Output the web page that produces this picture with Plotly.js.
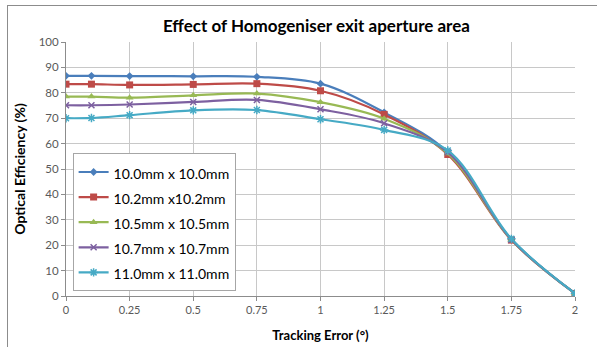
<!DOCTYPE html>
<html><head><meta charset="utf-8">
<script src="https://cdn.plot.ly/plotly-3.0.1.min.js"></script>
<style>
html,body{margin:0;padding:0;background:#fff;overflow:hidden;}
#frame{position:absolute;left:7px;top:5px;width:600px;height:350px;border:1px solid #8c8c8c;box-sizing:border-box;}
#chart{position:absolute;left:0;top:0;width:597px;height:347px;}
</style></head>
<body>
<div id="frame"></div>
<div id="chart"></div>
<script>
const trackingError = [0, 0.1, 0.25, 0.5, 0.75, 1, 1.25, 1.5, 1.75, 2];
const seriesNames = ["10.0mm x 10.0mm", "10.2mm x10.2mm", "10.5mm x 10.5mm", "10.7mm x 10.7mm", "11.0mm x 11.0mm"];
const eff_10_0 = [86.7, 86.7, 86.6, 86.5, 86.3, 83.6, 72.3, 56.6, 22.3, 1.0];
const eff_10_2 = [83.4, 83.4, 83.1, 83.3, 83.6, 80.8, 71.5, 55.7, 22.0, 1.0];
const eff_10_5 = [78.5, 78.5, 78.1, 79.0, 79.7, 76.3, 69.8, 56.1, 22.1, 1.0];
const eff_10_7 = [75.1, 75.1, 75.4, 76.4, 77.2, 73.5, 68.0, 56.6, 22.2, 1.0];
const eff_11_0 = [70.0, 70.1, 71.2, 73.1, 73.2, 69.6, 65.4, 57.3, 22.5, 1.0];

const colors = ["#4a7ebb", "#be4b48", "#98b954", "#7d60a0", "#46aac5"];
const symbols = ["diamond", "square", "triangle-up", "x-thin-open", "asterisk-open"];
const sizes = [6, 7, 7, 6, 7];
const allY = [eff_10_0, eff_10_2, eff_10_5, eff_10_7, eff_11_0];

const traces = allY.map((ys, i) => ({
  x: trackingError, y: ys,
  name: '<span style="font-size:14px">' + seriesNames[i] + '</span>',
  type: "scatter", mode: "lines+markers",
  line: {color: colors[i], width: 2.2, shape: "spline", smoothing: 1},
  marker: {symbol: symbols[i], size: sizes[i], color: colors[i], line: {color: colors[i], width: (i >= 3 ? 1.5 : 0)}}
}));

const layout = {
  width: 597, height: 347,
  margin: {l: 66, r: 22, t: 42, b: 51},
  paper_bgcolor: "rgba(0,0,0,0)", plot_bgcolor: "#fff",
  font: {family: "Lato, 'Open Sans', sans-serif", color: "#595959"},
  title: {text: "<b>Effect of Homogeniser exit aperture area</b>", font: {size: 17, color: "#000", family: "Lato, sans-serif"}, x: 0.53, xanchor: "center", y: 0.925, yanchor: "middle"},
  xaxis: {
    range: [0, 2], dtick: 0.25, tick0: 0, showgrid: true, gridcolor: "#c8c8c8", gridwidth: 1,
    zeroline: false, showline: true, linecolor: "#8c8c8c", ticks: "outside", ticklen: 4, tickcolor: "#8c8c8c",
    tickfont: {size: 11, color: "#595959"},
    title: {text: "<b>Tracking Error (°)</b>", font: {size: 13, color: "#000"}, standoff: 15}
  },
  yaxis: {
    range: [0, 100], dtick: 10, showgrid: true, gridcolor: "#c8c8c8", gridwidth: 1,
    zeroline: false, showline: true, linecolor: "#8c8c8c", ticks: "outside", ticklen: 4, tickcolor: "#8c8c8c",
    tickfont: {size: 11.5, color: "#595959"},
    title: {text: "<b>Optical Efficiency (%)</b>", font: {size: 14, color: "#000"}, standoff: 9}
  },
  legend: {
    x: 0.013, y: 0.018, xanchor: "left", yanchor: "bottom",
    bgcolor: "#fff", bordercolor: "#a6a6a6", borderwidth: 1,
    font: {size: 17, color: "#000"}, tracegroupgap: 0, itemwidth: 30
  },
  showlegend: true
};

Plotly.newPlot("chart", traces, layout, {displayModeBar: false, staticPlot: true});
</script>
</body></html>
